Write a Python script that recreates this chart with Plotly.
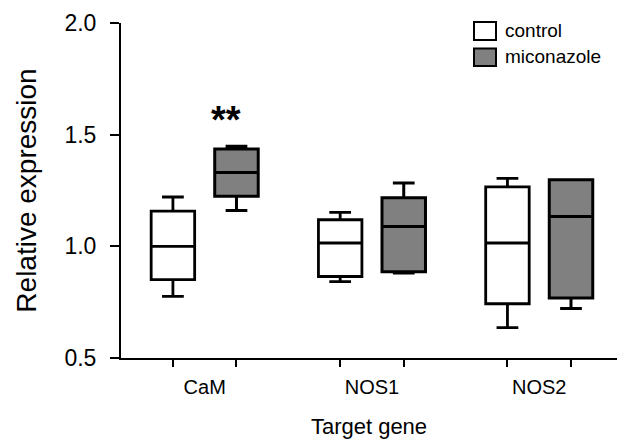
import plotly.graph_objects as go

genes = ["CaM", "NOS1", "NOS2"]
groups = ["control", "miconazole"]

# box statistics
ctrl_lower = [0.776, 0.842, 0.636]
ctrl_q1 = [0.851, 0.865, 0.743]
ctrl_median = [1.000, 1.015, 1.015]
ctrl_q3 = [1.158, 1.119, 1.266]
ctrl_upper = [1.221, 1.152, 1.304]

mic_lower = [1.161, 0.881, 0.722]
mic_q1 = [1.224, 0.886, 0.769]
mic_median = [1.331, 1.089, 1.134]
mic_q3 = [1.436, 1.218, 1.298]
mic_upper = [1.448, 1.284, 1.298]

y_ticks = [0.5, 1.0, 1.5, 2.0]
significance = [("CaM", "miconazole", "**")]

FONT = "Arial, Liberation Sans, sans-serif"
offset = 0.19
boxw = 0.26
centers = [i + 1 for i in range(len(genes))]
ctrl_x = [c - offset for c in centers]
mic_x = [c + offset for c in centers]

fig = go.Figure()
fig.add_trace(go.Box(
    name="control", x=ctrl_x, q1=ctrl_q1, median=ctrl_median, q3=ctrl_q3,
    lowerfence=ctrl_lower, upperfence=ctrl_upper, width=boxw, whiskerwidth=0.5,
    fillcolor="white", line=dict(color="black", width=2.8), showlegend=False,
    boxpoints=False,
))
fig.add_trace(go.Box(
    name="miconazole", x=mic_x, q1=mic_q1, median=mic_median, q3=mic_q3,
    lowerfence=mic_lower, upperfence=mic_upper, width=boxw, whiskerwidth=0.5,
    fillcolor="#808080", line=dict(color="black", width=3), showlegend=False,
    boxpoints=False,
))

# invisible trace carrying the category labels on a second x axis
fig.add_trace(go.Scatter(x=centers, y=[None] * 3, xaxis="x2", showlegend=False,
                         hoverinfo="skip"))

xr = [0.4996, 3.465]
fig.update_layout(
    width=617, height=439,
    margin=dict(l=121, r=0, t=23, b=81),
    paper_bgcolor="white", plot_bgcolor="white",
    font=dict(family=FONT, color="black"),
    xaxis=dict(range=xr, tickvals=ctrl_x + mic_x, ticktext=[""] * 6,
               ticks="outside", ticklen=7, tickwidth=2, tickcolor="black",
               showline=True, linecolor="black", linewidth=2,
               showgrid=False, zeroline=False, fixedrange=True),
    xaxis2=dict(range=xr, overlaying="x", side="bottom", anchor="y",
                tickvals=centers, ticktext=genes, ticks="", showline=False,
                showgrid=False, zeroline=False, ticklabelstandoff=15,
                tickfont=dict(size=20),
                title=dict(text="Target gene", font=dict(size=22), standoff=26)),
    yaxis=dict(range=[0.5, 2.0], tickvals=y_ticks,
               ticktext=[f"{v:.1f}" for v in y_ticks],
               ticks="outside", ticklen=9, tickwidth=2, tickcolor="black",
               showline=True, linecolor="black", linewidth=2,
               showgrid=False, zeroline=False, tickfont=dict(size=23),
               ticklabelstandoff=9,
               title=dict(text="Relative expression", font=dict(size=28), standoff=20)),
)

# significance marks
for gene, grp, txt in significance:
    gi = genes.index(gene)
    xpos = mic_x[gi] if grp == "miconazole" else ctrl_x[gi]
    top = (mic_upper if grp == "miconazole" else ctrl_upper)[gi]
    fig.add_annotation(x=xpos - 0.06, y=top, yshift=26, text=f"<b>{txt}</b>",
                       showarrow=False, font=dict(size=38, family=FONT),
                       xref="x", yref="y", yanchor="middle")

# legend (drawn manually to match the large swatches)
def px_x(p):
    return (p - 121) / 496.0

def px_y(p):
    return (358 - p) / 335.0

legend_items = [("control", "white", 22, 40), ("miconazole", "#808080", 48.5, 66)]
for label, color, y0, y1 in legend_items:
    fig.add_shape(type="rect", xref="paper", yref="paper",
                  x0=px_x(474), x1=px_x(496), y0=px_y(y1), y1=px_y(y0),
                  fillcolor=color, line=dict(color="black", width=2))
    fig.add_annotation(xref="paper", yref="paper", x=px_x(503), y=px_y((y0 + y1) / 2 - 1),
                       text=label, showarrow=False, xanchor="left", yanchor="middle",
                       font=dict(size=19, family=FONT))

fig.write_html("out.html", config={"displayModeBar": False},
               post_script="document.body.style.margin='0';")
